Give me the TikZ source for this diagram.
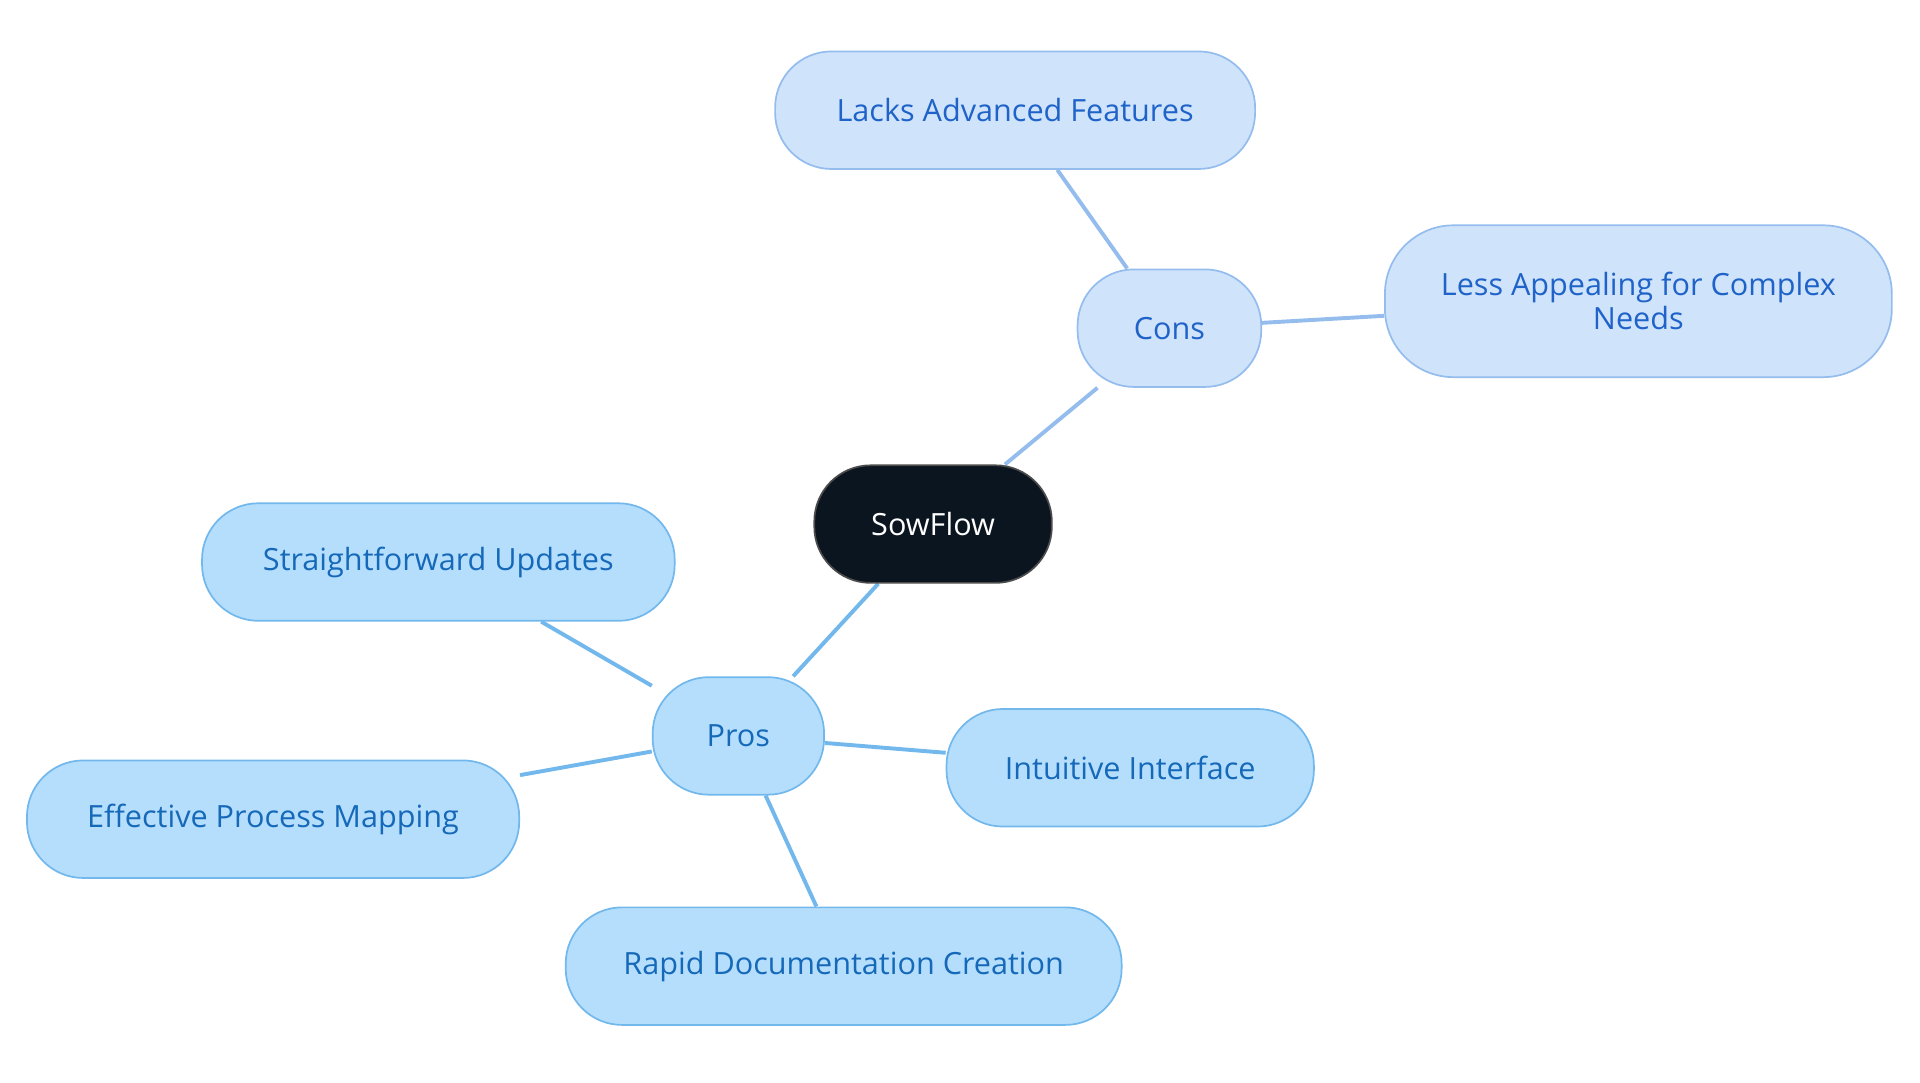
\documentclass[tikz,border=0pt]{standalone}
\usepackage{fontspec}
\setmainfont{Open Sans}
\usetikzlibrary{backgrounds}
\definecolor{rootfill}{HTML}{0B1520}
\definecolor{consfill}{HTML}{CFE3FB}
\definecolor{consline}{HTML}{94BDEE}
\definecolor{constext}{HTML}{1F63C9}
\definecolor{prosfill}{HTML}{B5DEFD}
\definecolor{prosline}{HTML}{72B8EC}
\definecolor{prostext}{HTML}{1569B8}
\begin{document}
\begin{tikzpicture}[x=0.5pt,y=-0.5pt,
  box/.style={rectangle,rounded corners=23pt,minimum height=48pt,line width=0.7pt,font=\fontsize{12.5}{14}\selectfont,align=center,inner sep=0pt},
  root/.style={box,fill=rootfill,draw=black!70,text=white},
  cons/.style={box,fill=consfill,draw=consline,text=constext},
  pros/.style={box,fill=prosfill,draw=prosline,text=prostext},
  ce/.style={draw=consline,line width=1.6pt},
  pe/.style={draw=prosline,line width=1.6pt}]
\useasboundingbox (0,0) rectangle (1568,884);
\node[root,minimum width=97pt] (root) at (762,428) {SowFlow};
\node[cons,minimum width=75pt] (cons) at (955,268) {Cons};
\node[cons,minimum width=196pt] (lacks) at (829,90) {Lacks Advanced Features};
\node[cons,minimum width=207pt,minimum height=62pt,rounded corners=28pt] (less) at (1338,246) {Less Appealing for Complex\\Needs};
\node[pros,minimum width=70pt] (pros) at (603,601) {Pros};
\node[pros,minimum width=193pt] (upd) at (358,459) {Straightforward Updates};
\node[pros,minimum width=201pt] (map) at (223,669) {Effective Process Mapping};
\node[pros,minimum width=227pt] (rapid) at (689,789) {Rapid Documentation Creation};
\node[pros,minimum width=150pt] (intu) at (923,627) {Intuitive Interface};
\begin{scope}[on background layer]
\draw[ce] (root) -- (cons);
\draw[ce] (cons) -- (lacks);
\draw[ce] (cons) -- (less);
\draw[pe] (root) -- (pros);
\draw[pe] (pros) -- (upd);
\draw[pe] (pros) -- (map);
\draw[pe] (pros) -- (rapid);
\draw[pe] (pros) -- (intu);
\end{scope}
\end{tikzpicture}
\end{document}
